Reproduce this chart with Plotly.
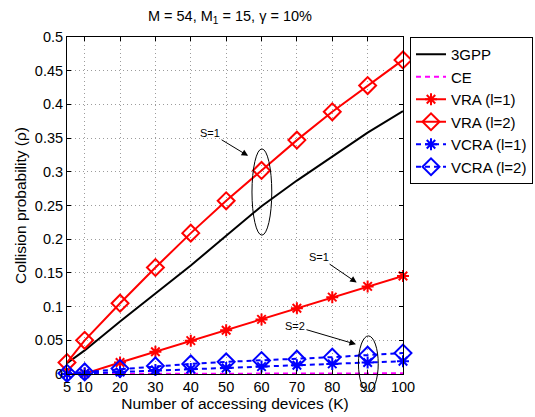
import plotly.graph_objects as go

# Number of accessing devices
K = [5, 10, 20, 30, 40, 50, 60, 70, 80, 90, 100]

# Collision probability per scheme
p_3gpp = [0.016, 0.035, 0.078, 0.120, 0.161, 0.205, 0.249, 0.287, 0.323, 0.358, 0.390]
p_ce = [0.0, 0.0, 0.0, 0.0, 0.0005, 0.0005, 0.0005, 0.0008, 0.0008, 0.001, 0.001]
p_vra_l1 = [0.0, 0.0005, 0.017, 0.033, 0.0495, 0.065, 0.081, 0.0975, 0.114, 0.130, 0.1455]
p_vra_l2 = [0.017, 0.050, 0.105, 0.158, 0.209, 0.257, 0.302, 0.347, 0.389, 0.428, 0.466]
p_vcra_l1 = [0.0, 0.001, 0.003, 0.006, 0.0075, 0.009, 0.011, 0.013, 0.015, 0.017, 0.019]
p_vcra_l2 = [0.001, 0.003, 0.008, 0.012, 0.015, 0.018, 0.020, 0.022, 0.025, 0.028, 0.031]

x_ticks = [5, 10, 20, 30, 40, 50, 60, 70, 80, 90, 100]
y_ticks = [0, 0.05, 0.1, 0.15, 0.2, 0.25, 0.3, 0.35, 0.4, 0.45, 0.5]
y_ticktext = ["0", "0.05", "0.1", "0.15", "0.2", "0.25", "0.3", "0.35", "0.4", "0.45", "0.5"]

FONT = "Arial, Liberation Sans, sans-serif"
DASH = "5px,4px"
W, H = 535, 417

fig = go.Figure()

fig.add_trace(go.Scatter(
    x=K, y=p_3gpp, name="3GPP", mode="lines",
    line=dict(color="black", width=2), cliponaxis=False))
fig.add_trace(go.Scatter(
    x=K, y=p_ce, name="CE", mode="lines",
    line=dict(color="#ff00ff", width=2, dash=DASH), cliponaxis=False))
fig.add_trace(go.Scatter(
    x=K, y=p_vra_l1, name="VRA (l=1)", mode="lines+markers",
    line=dict(color="red", width=2),
    marker=dict(symbol="asterisk-open", size=10, color="red",
                line=dict(color="red", width=2)),
    cliponaxis=False))
fig.add_trace(go.Scatter(
    x=K, y=p_vra_l2, name="VRA (l=2)", mode="lines+markers",
    line=dict(color="red", width=2),
    marker=dict(symbol="diamond-open", size=13, color="red",
                line=dict(color="red", width=2)),
    cliponaxis=False))
fig.add_trace(go.Scatter(
    x=K, y=p_vcra_l1, name="VCRA (l=1)", mode="lines+markers",
    line=dict(color="blue", width=2, dash=DASH),
    marker=dict(symbol="asterisk-open", size=10, color="blue",
                line=dict(color="blue", width=2)),
    cliponaxis=False))
fig.add_trace(go.Scatter(
    x=K, y=p_vcra_l2, name="VCRA (l=2)", mode="lines+markers",
    line=dict(color="blue", width=2, dash=DASH),
    marker=dict(symbol="diamond-open", size=13, color="blue",
                line=dict(color="blue", width=2)),
    cliponaxis=False))

# Ellipses grouping the highlighted points
fig.add_shape(type="circle", xref="x", yref="y",
              x0=57.3, x1=62.9, y0=0.206, y1=0.334,
              line=dict(color="black", width=1))
fig.add_shape(type="circle", xref="x", yref="paper",
              x0=87.4, x1=93.0, y0=-0.052, y1=0.113,
              line=dict(color="black", width=1))

# Labels with arrows pointing at the grouped points (head in data, tail offset in px)
callouts = [
    ("S=1", 56.2, 0.3237, -38, -23),
    ("S=1", 86.9, 0.1356, -38, -26),
    ("S=2", 86.7, 0.0441, -61, -18),
]
for txt, hx, hy, ax, ay in callouts:
    fig.add_annotation(x=hx, y=hy, ax=ax, ay=ay, text=txt, showarrow=True,
                       arrowhead=2, arrowsize=1.3, arrowwidth=1,
                       arrowcolor="black", standoff=0,
                       font=dict(family=FONT, size=11, color="black"))

axis_common = dict(
    showline=True, linecolor="black", linewidth=1, mirror="ticks",
    ticks="inside", ticklen=4, tickcolor="black",
    showgrid=True, gridcolor="#9c9c9c", griddash="1px,3px", gridwidth=1,
    zeroline=False, automargin=False,
    tickfont=dict(family=FONT, size=14.5, color="black"),
)

fig.update_xaxes(range=[5, 100], tickvals=x_ticks,
                 title=dict(text="Number of accessing devices (K)",
                            font=dict(family=FONT, size=15.5, color="black"),
                            standoff=3),
                 **axis_common)
fig.update_yaxes(range=[0, 0.5], tickvals=y_ticks, ticktext=y_ticktext,
                 title=dict(text="Collision probability (ρ)",
                            font=dict(family=FONT, size=15.5, color="black"),
                            standoff=4),
                 **axis_common)

fig.update_layout(
    width=W, height=H,
    margin=dict(l=67, r=132, t=37, b=43, autoexpand=False),
    paper_bgcolor="white", plot_bgcolor="white",
    font=dict(family=FONT, size=14, color="black"),
    title=dict(text="M = 54, M<sub>1</sub> = 15, γ = 10%",
               xref="paper", x=0.485, xanchor="center",
               yref="container", y=0.962, yanchor="middle",
               font=dict(family=FONT, size=14.5, color="black")),
    legend=dict(xref="container", yref="container",
                x=410 / W, y=1 - 37 / H, xanchor="left", yanchor="top",
                bordercolor="black", borderwidth=1, bgcolor="white",
                font=dict(family=FONT, size=15, color="black"),
                itemwidth=30, tracegroupgap=0),
    showlegend=True,
)

fig.write_html("out.html")
